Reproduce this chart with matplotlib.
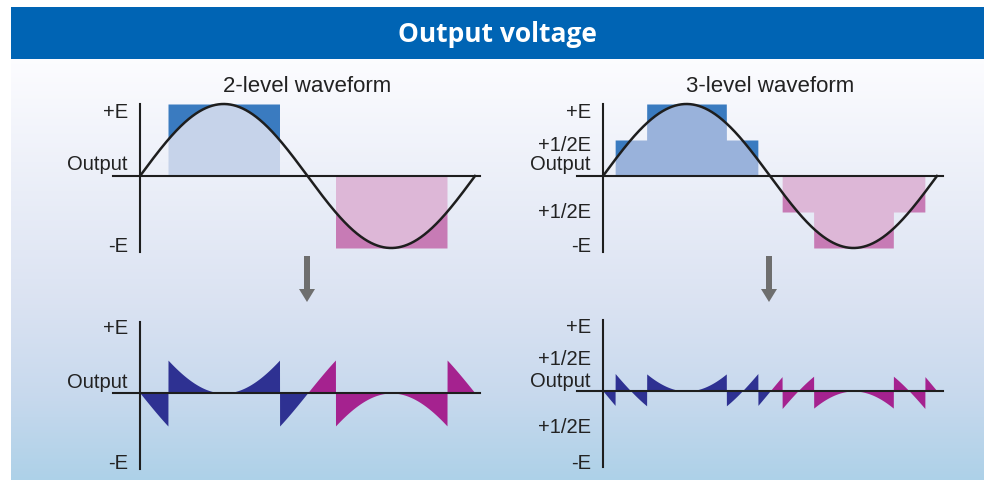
import numpy as np
import matplotlib.pyplot as plt
from matplotlib.patches import Rectangle, FancyArrow

# figure size in pixels
W, H = 984, 481

# switching bands for the positive half cycle: (start deg, end deg, level in E)
two_level_bands = [(30, 150, 1.0)]
three_level_bands = [(13, 167, 0.5), (47, 133, 0.5)]

# axis labels (text, level in E) for each panel
top_left_labels = [("+E", 0.90), ("Output", 0.17), ("-E", -0.97)]
top_right_labels = [("+E", 0.90), ("+1/2E", 0.44), ("Output", 0.17),
                    ("+1/2E", -0.49), ("-E", -0.97)]
bottom_left_labels = [("+E", 1.0), ("Output", 0.18), ("-E", -1.05)]
bottom_right_labels = [("+E", 1.0), ("+1/2E", 0.5), ("Output", 0.16),
                       ("+1/2E", -0.55), ("-E", -1.11)]

# colours
blue_dark = "#3a7bc0"
blue_light_2 = "#c6d3ea"
blue_light_3 = "#99b2db"
pink_dark = "#c77bb5"
pink_light = "#ddb7d7"
err_blue = "#2e3192"
err_pink = "#a5228f"
line_col = "#1e1e1e"

theta = np.linspace(0, 360, 3601)
sine = np.sin(np.radians(theta))


def staircase(th, bands):
    u = np.zeros_like(th)
    for on, off, lvl in bands:
        u += np.where((th > on) & (th < off), lvl, 0.0)
        u -= np.where((th > on + 180) & (th < off + 180), lvl, 0.0)
    return u


fig = plt.figure(figsize=(W / 100, H / 100), dpi=100)
plt.rcParams['font.family'] = ['Liberation Sans', 'DejaVu Sans']

# background: gradient panel, title bar and arrows
bg = fig.add_axes([0, 0, 1, 1])
bg.set_xlim(0, W)
bg.set_ylim(H, 0)
bg.axis('off')
rows = np.linspace(60, 481, 200)
stops_y = [60, 150, 300, 400, 481]
stops_c = np.array([[0.99, 0.99, 1.0], [0.94, 0.95, 0.98], [0.86, 0.89, 0.95],
                     [0.78, 0.85, 0.93], [0.68, 0.82, 0.91]])
grad = np.stack([np.interp(rows, stops_y, stops_c[:, i]) for i in range(3)], axis=-1)
bg.imshow(grad[:, None, :], extent=[11, 984, 481, 60], aspect='auto', interpolation='bilinear')
bg.add_patch(Rectangle((11, 8), 973, 52, color="#0064b4", lw=0))
bg.text(497, 35, "Output voltage", color="white", fontsize=19, fontweight='bold',
        family=['Open Sans', 'DejaVu Sans'], ha='center', va='center')
for ax_x in (307, 769):
    bg.add_patch(FancyArrow(ax_x, 257, 0, 46, width=6, head_width=16, head_length=13,
                            length_includes_head=True, color="#6e6e6e", lw=0))


def make_panel(box, x0, x360, y0, e_px, xb, yb):
    l, t, r, b = box
    ax = fig.add_axes([l / W, 1 - b / H, (r - l) / W, (b - t) / H])
    k = (x360 - x0) / 360
    ax.set_xlim((l - x0) / k, (r - x0) / k)
    ax.set_ylim((y0 - b) / e_px, (y0 - t) / e_px)
    ax.patch.set_alpha(0)
    ax.set_xticks([])
    ax.set_yticks([])
    for s in ['top', 'right']:
        ax.spines[s].set_visible(False)
    ax.spines['left'].set_position(('data', 0))
    ax.spines['bottom'].set_position(('data', 0))
    ax.spines['left'].set_bounds(*yb)
    ax.spines['bottom'].set_bounds(*xb)
    for s in ['left', 'bottom']:
        ax.spines[s].set_linewidth(1.5)
        ax.spines[s].set_color(line_col)
        ax.spines[s].set_zorder(5)
    return ax


def add_labels(ax, labels):
    for txt, lvl in labels:
        ax.text(-13, lvl, txt, ha='right', va='center', fontsize=14.5, color="#222222")


def top_panel(ax, bands, light, title):
    u = staircase(theta, bands)
    low = np.minimum(u, sine)
    high = np.maximum(u, sine)
    ax.fill_between(theta, 0, low, where=u > 0, color=light, lw=0)
    ax.fill_between(theta, low, u, where=u > 0, color=blue_dark, lw=0)
    ax.fill_between(theta, high, 0, where=u < 0, color=pink_light, lw=0)
    ax.fill_between(theta, u, high, where=u < 0, color=pink_dark, lw=0)
    ax.plot(theta, sine, color=line_col, lw=1.8, zorder=4)
    ax.text(180, 1.25, title, ha='center', va='center', fontsize=16, color="#222222")


def bottom_panel(ax, bands):
    err = staircase(theta, bands) - sine
    ax.fill_between(theta, 0, err, where=theta <= 180, color=err_blue, lw=0)
    ax.fill_between(theta, 0, err, where=theta >= 180, color=err_pink, lw=0)


tl = make_panel((60, 95, 490, 265), 140, 475, 177, 72, (-29, 365), (-1.06, 1.0))
top_panel(tl, two_level_bands, blue_light_2, "2-level waveform")
add_labels(tl, top_left_labels)

tr = make_panel((540, 95, 960, 265), 603, 937, 177, 72, (-28, 366), (-1.06, 1.0))
top_panel(tr, three_level_bands, blue_light_3, "3-level waveform")
add_labels(tr, top_right_labels)

bl = make_panel((60, 315, 490, 478), 140, 475, 394, 66, (-29, 365), (-1.15, 1.08))
bottom_panel(bl, two_level_bands)
add_labels(bl, bottom_left_labels)

br = make_panel((540, 315, 960, 478), 603, 937, 392, 64, (-28, 366), (-1.19, 1.11))
bottom_panel(br, three_level_bands)
add_labels(br, bottom_right_labels)

fig.savefig("out.png", dpi=100)
